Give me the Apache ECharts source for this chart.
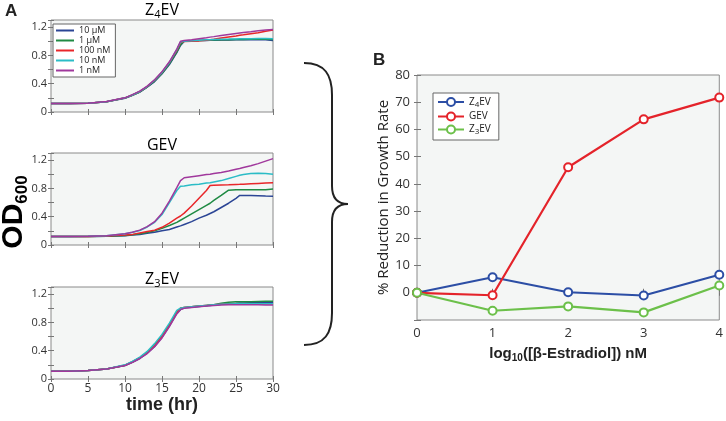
<!DOCTYPE html>
<html><head><meta charset="utf-8">
<script src="https://cdn.jsdelivr.net/npm/echarts@6/dist/echarts.min.js"></script>
<style>html,body{margin:0;padding:0;background:#fff}#c{width:726px;height:421px}</style>
</head><body><div id="c"></div>
<script>
// ---- Panel A data (OD600 vs time) ----
const times = [0,2.5,5,7.5,10,11,12,13,14,15,16,17,17.5,18,19,20,21,21.5,22,23,24,25,25.5,26,27,28,29,30];
const concNames = ['10 µM','1 µM','100 nM','10 nM','1 nM'];
const panelTitles = ['Z4EV','GEV','Z3EV'];
const timeTicks = [0,5,10,15,20,25,30];
// Z4EV
const z4_10uM = [0.12,0.12,0.125,0.145,0.195,0.235,0.28,0.35,0.43,0.54,0.67,0.84,0.94,1.0,1.005,1.01,1.012,1.013,1.014,1.016,1.018,1.02,1.02,1.021,1.022,1.022,1.02,1.01];
const z4_1uM = [0.12,0.12,0.125,0.145,0.197,0.237,0.283,0.353,0.437,0.545,0.68,0.85,0.95,1.0,1.007,1.012,1.015,1.016,1.018,1.02,1.022,1.024,1.025,1.026,1.027,1.028,1.028,1.025];
const z4_100nM = [0.12,0.12,0.125,0.146,0.2,0.24,0.29,0.36,0.45,0.56,0.70,0.87,0.98,0.995,1.0,1.005,1.015,1.02,1.028,1.045,1.06,1.075,1.083,1.09,1.105,1.12,1.14,1.16];
const z4_10nM = [0.12,0.12,0.125,0.146,0.2,0.24,0.29,0.36,0.45,0.56,0.70,0.88,0.99,1.0,1.008,1.015,1.02,1.022,1.025,1.028,1.03,1.033,1.034,1.035,1.036,1.037,1.037,1.035];
const z4_1nM = [0.12,0.12,0.125,0.147,0.2,0.245,0.295,0.365,0.455,0.57,0.71,0.89,1.0,1.01,1.02,1.035,1.05,1.058,1.065,1.08,1.095,1.11,1.117,1.123,1.135,1.148,1.158,1.165];
// GEV
const gev_10uM = [0.12,0.12,0.12,0.125,0.13,0.14,0.15,0.165,0.18,0.2,0.22,0.255,0.27,0.29,0.33,0.38,0.42,0.445,0.47,0.53,0.59,0.66,0.70,0.70,0.698,0.695,0.692,0.69];
const gev_1uM = [0.12,0.12,0.12,0.125,0.135,0.145,0.16,0.175,0.2,0.235,0.275,0.32,0.35,0.38,0.44,0.5,0.56,0.59,0.63,0.70,0.775,0.78,0.78,0.78,0.78,0.78,0.78,0.79];
const gev_100nM = [0.12,0.12,0.12,0.126,0.14,0.15,0.17,0.19,0.21,0.25,0.31,0.38,0.41,0.45,0.55,0.66,0.77,0.84,0.845,0.848,0.85,0.855,0.857,0.86,0.865,0.87,0.875,0.88];
const gev_10nM = [0.12,0.12,0.122,0.13,0.16,0.18,0.205,0.255,0.32,0.43,0.60,0.77,0.83,0.835,0.85,0.86,0.875,0.88,0.89,0.91,0.94,0.97,0.985,0.995,1.01,1.015,1.01,1.0];
const gev_1nM = [0.12,0.12,0.122,0.13,0.16,0.18,0.21,0.26,0.33,0.45,0.62,0.81,0.91,0.95,0.965,0.98,0.995,1.0,1.01,1.025,1.045,1.07,1.08,1.095,1.12,1.15,1.185,1.22];
// Z3EV
const z3_10uM = [0.11,0.11,0.12,0.14,0.19,0.235,0.29,0.365,0.46,0.59,0.75,0.93,0.98,1.005,1.015,1.025,1.035,1.04,1.045,1.055,1.065,1.07,1.075,1.075,1.078,1.08,1.08,1.08];
const z3_1uM = [0.11,0.11,0.12,0.14,0.195,0.245,0.3,0.38,0.48,0.61,0.77,0.95,1.0,1.01,1.02,1.03,1.04,1.045,1.05,1.07,1.085,1.09,1.09,1.09,1.09,1.095,1.1,1.1];
const z3_100nM = [0.11,0.11,0.12,0.14,0.195,0.24,0.3,0.375,0.47,0.6,0.76,0.94,1.0,1.01,1.02,1.03,1.04,1.045,1.05,1.055,1.06,1.065,1.065,1.065,1.065,1.065,1.065,1.065];
const z3_10nM = [0.11,0.11,0.12,0.14,0.2,0.25,0.31,0.39,0.5,0.63,0.79,0.97,1.0,1.01,1.02,1.03,1.04,1.045,1.05,1.055,1.06,1.065,1.065,1.065,1.065,1.065,1.065,1.065];
const z3_1nM = [0.11,0.11,0.12,0.14,0.19,0.235,0.29,0.36,0.455,0.58,0.74,0.92,0.98,1.0,1.01,1.02,1.03,1.035,1.04,1.045,1.05,1.05,1.05,1.05,1.05,1.05,1.045,1.045];

// ---- Panel B data ----
const doseLog = [0,1,2,3,4];
const bNames = ['Z4EV','GEV','Z3EV'];
const bZ4EV = [0,5.7,0.2,-1.0,6.6];
const bGEV = [0,-0.9,46.1,63.7,71.7];
const bZ3EV = [0,-6.6,-5.0,-7.2,2.7];

const concColors = ['#2b4595','#1f8a43','#e8262a','#2bbcc6','#a0389c'];
const bColors = ['#2c4ea5','#e4232a','#6cc04a'];

const panelA = [
  [z4_10uM,z4_1uM,z4_100nM,z4_10nM,z4_1nM],
  [gev_10uM,gev_1uM,gev_100nM,gev_10nM,gev_1nM],
  [z3_10uM,z3_1uM,z3_100nM,z3_10nM,z3_1nM]
];
const bVals = [bZ4EV,bGEV,bZ3EV];

const FONT = 'Open Sans';
const gridsA = [20,153,287];
const grids = gridsA.map(t => ({left:51, top:t, width:222, height:92, show:true, backgroundColor:'#f4f6f5', borderColor:'#8a8a8a', borderWidth:1}));
grids.push({left:417, top:75, width:304, height:245, show:true, backgroundColor:'#f4f6f5', borderColor:'#8a8a8a', borderWidth:1});

const tickStyle = {inside:true, length:3, lineStyle:{color:'#777'}};
const xAxes = [], yAxes = [];
for (let i=0;i<3;i++){
  xAxes.push({type:'value', gridIndex:i, min:0, max:30, interval:5, axisLine:{show:false}, axisTick:tickStyle, splitLine:{show:false},
    axisLabel:{show:i===2, margin:4, fontFamily:FONT, fontSize:12, color:'#333'},
    name: i===2 ? 'time (hr)' : '', nameLocation:'middle', nameGap:14,
    nameTextStyle:{fontFamily:'Liberation Sans', fontWeight:'bold', fontSize:18, color:'#222', verticalAlign:'top'}});
  yAxes.push({type:'value', gridIndex:i, min:0, max:1.3, interval:0.2, axisLine:{show:false}, axisTick:tickStyle, splitLine:{show:false},
    axisLabel:{margin:4, fontFamily:FONT, fontSize:11, color:'#333',
      formatter: v => { const k=Math.round(v*10); return (k%4===0 && k<=12) ? (k===0?'0':(k/10).toFixed(1)) : ''; }}});
}
xAxes.push({type:'value', gridIndex:3, min:0, max:4, interval:1, axisLine:{show:false}, axisTick:{inside:true,length:4,lineStyle:{color:'#777'}}, splitLine:{show:false},
  axisLabel:{margin:7, fontFamily:FONT, fontSize:13, color:'#333'},
  name:'log{s|10}([β-Estradiol]) nM', nameLocation:'middle', nameGap:25,
  nameTextStyle:{fontFamily:'Liberation Sans', fontWeight:'bold', fontSize:15, color:'#222', verticalAlign:'top',
    rich:{s:{fontFamily:'Liberation Sans', fontWeight:'bold', fontSize:10, color:'#222', verticalAlign:'bottom', padding:[8,0,0,0]}}}});
yAxes.push({type:'value', gridIndex:3, min:-10, max:80, interval:10, axisLine:{show:false}, axisTick:{inside:true,length:4,lineStyle:{color:'#777'}}, splitLine:{show:false},
  axisLabel:{margin:7, fontFamily:FONT, fontSize:13, color:'#333', formatter: v => v < 0 ? '' : String(v)},
  name:'% Reduction in Growth Rate', nameLocation:'middle', nameGap:26,
  nameTextStyle:{fontFamily:FONT, fontSize:15, color:'#222'}});
for (let i=0;i<4;i++){
  const isB = i===3;
  xAxes.push({type:'value', gridIndex:i, position:'top', min:0, max:isB?4:30, interval:isB?1:5, axisLine:{show:false}, axisTick:tickStyle, axisLabel:{show:false}, splitLine:{show:false}});
  yAxes.push({type:'value', gridIndex:i, position:'right', min:isB?-10:0, max:isB?80:1.3, interval:isB?10:0.2, axisLine:{show:false}, axisTick:tickStyle, axisLabel:{show:false}, splitLine:{show:false}});
}

const series = [];
panelA.forEach((arrs, gi) => {
  arrs.forEach((vals, ci) => {
    series.push({type:'line', name:concNames[ci], xAxisIndex:gi, yAxisIndex:gi, symbol:'none', showSymbol:false,
      lineStyle:{width:1.5, color:concColors[ci]}, itemStyle:{color:concColors[ci]}, animation:false, z:2+ci,
      data: times.map((t,k)=>[t, vals[k]])});
  });
});
bVals.forEach((vals, si) => {
  series.push({type:'line', name:bNames[si], xAxisIndex:3, yAxisIndex:3, symbol:'emptyCircle', symbolSize:8,
    lineStyle:{width:2.2, color:bColors[si]}, itemStyle:{color:bColors[si], borderWidth:2}, animation:false,
    data: doseLog.map((d,k)=>[d, vals[k]])});
});

const sub = {a:{fontFamily:FONT, fontSize:16, color:'#222'}, s:{fontFamily:FONT, fontSize:11, color:'#222', padding:[10,0,0,0]}};
const braceStyle = {fill:'none', stroke:'#222', lineWidth:2};
const chart = echarts.init(document.getElementById('c'), null, {renderer:'canvas'});
chart.setOption({
  animation:false,
  grid: grids, xAxis: xAxes, yAxis: yAxes, series,
  legend: [
    {data: concNames, left:53, top:24, orient:'vertical', itemGap:1, itemWidth:18, itemHeight:2, icon:'rect', padding:[2,5,2,3],
     backgroundColor:'#fff', borderColor:'#666', borderWidth:1,
     textStyle:{fontFamily:FONT, fontSize:9, color:'#222', lineHeight:9}},
    {data: bNames, left:433, top:93, orient:'vertical', itemGap:3, itemWidth:26, itemHeight:10, padding:[4,8,4,4],
     backgroundColor:'#fff', borderColor:'#666', borderWidth:1,
     formatter: n => n==='Z4EV' ? '{a|Z}{s|4}{a|EV}' : (n==='Z3EV' ? '{a|Z}{s|3}{a|EV}' : '{a|'+n+'}'),
     textStyle:{fontFamily:FONT, fontSize:10, color:'#222',
       rich:{a:{fontFamily:FONT, fontSize:10, color:'#222'}, s:{fontFamily:FONT, fontSize:8, color:'#222', padding:[5,0,0,0]}}}}
  ],
  graphic: [
    {type:'text', left:5, top:3, style:{text:'A', fontFamily:'Liberation Sans', fontWeight:'bold', fontSize:17, fill:'#222'}},
    {type:'text', left:373, top:52, style:{text:'B', fontFamily:'Liberation Sans', fontWeight:'bold', fontSize:17, fill:'#222'}},
    {type:'text', x:162, y:10, style:{text:'{a|Z}{s|4}{a|EV}', rich:sub, align:'center', verticalAlign:'middle'}},
    {type:'text', x:162, y:145, style:{text:'{a|GEV}', rich:sub, align:'center', verticalAlign:'middle'}},
    {type:'text', x:162, y:279, style:{text:'{a|Z}{s|3}{a|EV}', rich:sub, align:'center', verticalAlign:'middle'}},
    {type:'text', x:14, y:212, rotation:Math.PI/2,
     style:{text:'{o|OD}{s|600}', align:'center', verticalAlign:'middle',
       rich:{o:{fontFamily:'Liberation Sans', fontWeight:'bold', fontSize:30, color:'#222'},
             s:{fontFamily:'Liberation Sans', fontWeight:'bold', fontSize:17, color:'#222', padding:[16,0,0,0]}}}},
    {type:'bezierCurve', shape:{x1:304,y1:63,cpx1:325,cpy1:63,cpx2:332,cpy2:75,x2:332,y2:95}, style:braceStyle},
    {type:'line', shape:{x1:332,y1:95,x2:332,y2:186}, style:braceStyle},
    {type:'bezierCurve', shape:{x1:332,y1:186,cpx1:332,cpy1:198,cpx2:338,cpy2:204,x2:348,y2:204}, style:braceStyle},
    {type:'bezierCurve', shape:{x1:348,y1:204,cpx1:338,cpy1:204,cpx2:332,cpy2:210,x2:332,y2:222}, style:braceStyle},
    {type:'line', shape:{x1:332,y1:222,x2:332,y2:313}, style:braceStyle},
    {type:'bezierCurve', shape:{x1:332,y1:313,cpx1:332,cpy1:333,cpx2:325,cpy2:345,x2:304,y2:345}, style:braceStyle}
  ]
});
</script></body></html>
